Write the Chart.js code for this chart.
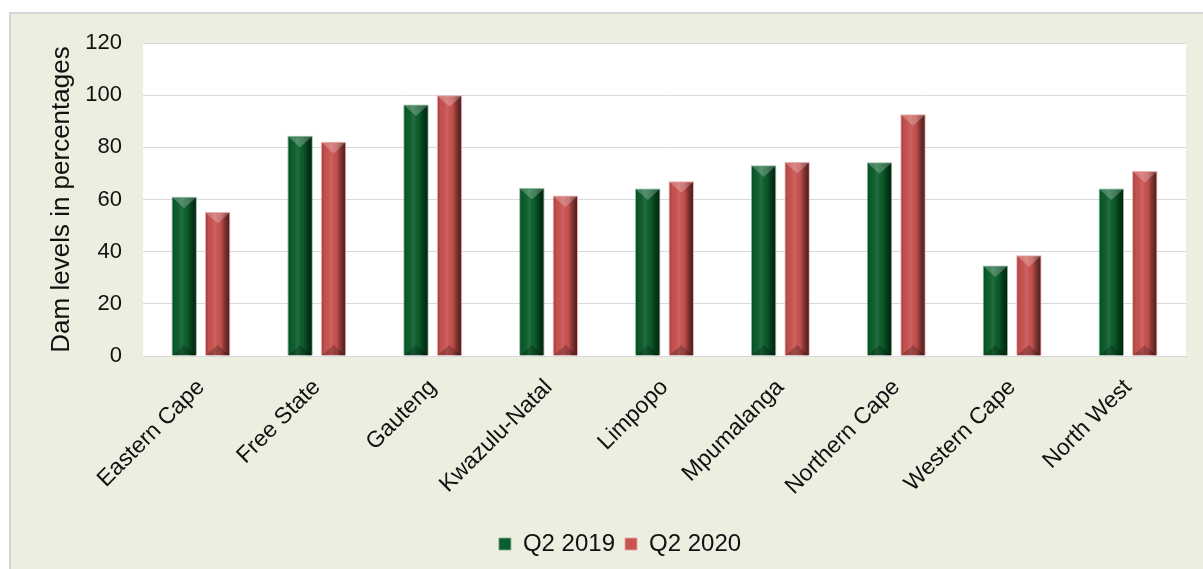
<!DOCTYPE html>
<html><head><meta charset="utf-8">
<script src="https://cdn.jsdelivr.net/npm/chart.js@4.4.1/dist/chart.umd.min.js"></script>
<style>html,body{margin:0;padding:0;background:#fff;} #wrap{position:relative;width:1203px;height:569px;}</style>
</head><body><div id="wrap"><canvas id="c" width="1203" height="569"></canvas></div>
<script>
const categories = ['Eastern Cape','Free State','Gauteng','Kwazulu-Natal','Limpopo','Mpumalanga','Northern Cape','Western Cape','North West'];
const q2_2019 = [61.1, 84.4, 96.4, 64.4, 64.2, 73.1, 74.3, 34.7, 64.2];
const q2_2020 = [55.2, 82.1, 100.0, 61.5, 67.0, 74.4, 92.7, 38.6, 70.9];
const yTicks = [0, 20, 40, 60, 80, 100, 120];
const seriesNames = ['Q2 2019', 'Q2 2020'];

const FONT = "'Liberation Sans', Arial, sans-serif";

const framePlugin = {
  id: 'frame',
  beforeDraw(chart) {
    const ctx = chart.ctx, a = chart.chartArea;
    ctx.save();
    ctx.fillStyle = '#ffffff';
    ctx.fillRect(0, 0, chart.width, chart.height);
    ctx.fillStyle = '#ECEFDF';
    ctx.fillRect(10, 13, chart.width - 10, chart.height - 13);
    ctx.strokeStyle = '#D4D4D4';
    ctx.lineWidth = 2;
    ctx.strokeRect(10, 13, chart.width + 10, chart.height + 10);
    ctx.fillStyle = '#ffffff';
    ctx.fillRect(a.left, a.top, a.right - a.left, a.bottom - a.top);
    ctx.restore();
  }
};

const bevelPlugin = {
  id: 'bevel',
  afterDatasetsDraw(chart) {
    const ctx = chart.ctx;
    chart.data.datasets.forEach((ds, di) => {
      const meta = chart.getDatasetMeta(di);
      meta.data.forEach(el => {
        const p = el.getProps(['x', 'y', 'base', 'width'], true);
        const l = p.x - p.width / 2 + 1, r = p.x + p.width / 2 - 1;
        const t = Math.min(p.y, p.base) + 1, b = Math.max(p.y, p.base);
        const w = r - l;
        ctx.save();
        ctx.beginPath(); ctx.rect(l, t, w, b - t); ctx.clip();
        const g = ctx.createLinearGradient(l, 0, r, 0);
        g.addColorStop(0, 'rgba(0,0,0,0.22)');
        g.addColorStop(0.12, 'rgba(0,0,0,0.02)');
        g.addColorStop(0.4, 'rgba(255,255,255,0.10)');
        g.addColorStop(0.62, 'rgba(0,0,0,0.02)');
        g.addColorStop(0.82, 'rgba(0,0,0,0.40)');
        g.addColorStop(1, 'rgba(0,0,0,0.62)');
        ctx.fillStyle = g;
        ctx.fillRect(l, t, w, b - t);
        const h = w * 0.45;
        ctx.beginPath(); ctx.moveTo(l, t); ctx.lineTo(r, t); ctx.lineTo(p.x, t + h); ctx.closePath();
        ctx.fillStyle = 'rgba(255,255,255,0.24)'; ctx.fill();
        ctx.beginPath(); ctx.moveTo(l, b); ctx.lineTo(r, b); ctx.lineTo(p.x, b - h); ctx.closePath();
        ctx.fillStyle = 'rgba(0,0,0,0.22)'; ctx.fill();
        ctx.restore();
      });
    });
  }
};

const legendShift = {
  id: 'legendShift',
  afterLayout(chart) {
    const lg = chart.legend;
    if (lg) { lg.left += 22; lg.right += 22; }
  }
};

new Chart(document.getElementById('c'), {
  type: 'bar',
  data: {
    labels: categories,
    datasets: [
      { label: seriesNames[0], data: q2_2019, backgroundColor: '#0B5E2C', borderColor: 'rgba(120,175,140,0.85)', borderWidth: 1,
        categoryPercentage: 0.578, barPercentage: 0.76 },
      { label: seriesNames[1], data: q2_2020, backgroundColor: '#C9524F', borderColor: 'rgba(235,165,165,0.9)', borderWidth: 1,
        categoryPercentage: 0.578, barPercentage: 0.76 }
    ]
  },
  options: {
    responsive: false,
    animation: false,
    devicePixelRatio: 1,
    layout: { padding: { left: 10, right: 17, top: 43, bottom: 3 } },
    plugins: {
      legend: {
        position: 'bottom',
        labels: { boxWidth: 12, boxHeight: 12, padding: 10, color: '#111', font: { family: FONT, size: 24 } }
      },
      tooltip: { enabled: false }
    },
    scales: {
      x: {
        grid: { display: false, drawTicks: false },
        border: { display: true, color: '#D9D9D9', width: 1 },
        ticks: { minRotation: 45, maxRotation: 45, padding: 18, color: '#111', font: { family: FONT, size: 23 } },
        afterFit(scale) { scale.height = 166; }
      },
      y: {
        min: 0, max: 120,
        afterBuildTicks(scale) { scale.ticks = yTicks.map(v => ({ value: v })); },
        grid: { color: '#D9D9D9', drawTicks: false },
        border: { display: false },
        ticks: { padding: 21, color: '#111', font: { family: FONT, size: 22 } },
        title: { display: true, text: 'Dam levels in percentages', color: '#111', padding: { top: 36, bottom: 0 }, font: { family: FONT, size: 26 } },
        afterFit(scale) { scale.width = 133; }
      }
    }
  },
  plugins: [framePlugin, bevelPlugin, legendShift]
});
</script></body></html>
